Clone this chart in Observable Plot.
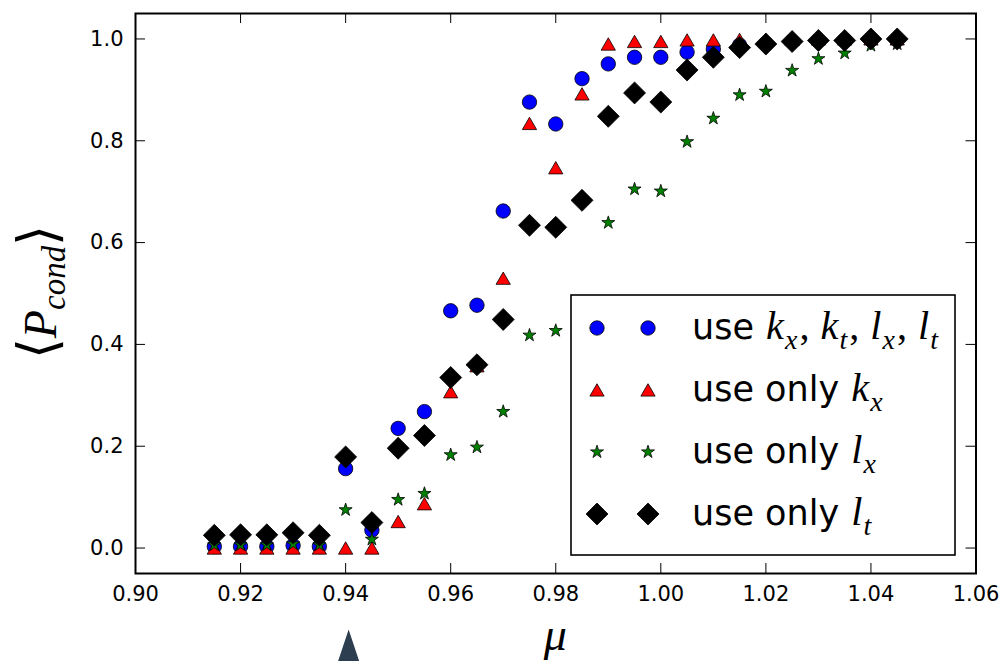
<!DOCTYPE html>
<html><head><meta charset="utf-8">
<script src="https://cdn.jsdelivr.net/npm/d3@7"></script>
<script src="https://cdn.jsdelivr.net/npm/@observablehq/plot@0.6"></script>
<style>html,body{margin:0;padding:0;background:#fff}svg{display:block}</style>
</head><body><div id="chart"></div>
<script>
// ---- data ----
const mu = [0.915,0.92,0.925,0.93,0.935,0.94,0.945,0.95,0.955,0.96,0.965,0.97,0.975,0.98,0.985,0.99,0.995,1.00,1.005,1.01,1.015,1.02,1.025,1.03,1.035,1.04,1.045];
const pAll = [0.003,0.003,0.003,0.005,0.003,0.156,0.035,0.235,0.268,0.466,0.477,0.662,0.876,0.833,0.922,0.951,0.964,0.964,0.974,0.980,0.988,0.991,0.995,0.997,0.998,0.999,0.999];
const pKx  = [0,0,0,0,0,0,0,0.052,0.087,0.307,0.358,0.530,0.834,0.747,0.892,0.990,0.995,0.995,0.998,0.998,0.999,0.999,0.999,1.0,1.0,1.0,1.0];
const pLx  = [0.006,0.006,0.006,0.008,0.006,0.075,0.017,0.095,0.107,0.183,0.198,0.268,0.418,0.427,0.460,0.639,0.705,0.701,0.798,0.844,0.890,0.897,0.938,0.961,0.972,0.987,0.990];
const pLt  = [0.025,0.026,0.026,0.030,0.025,0.179,0.050,0.196,0.221,0.335,0.360,0.449,0.634,0.630,0.683,0.848,0.894,0.876,0.939,0.964,0.983,0.990,0.995,0.997,0.997,1.0,1.0];
const xTicks = [0.90,0.92,0.94,0.96,0.98,1.00,1.02,1.04,1.06];
const yTicks = [0.0,0.2,0.4,0.6,0.8,1.0];
const markerMu = [0.94];
const seriesLabels = [
  [["use ","s"],["k","m"],["x","sub"],[", ","r"],["k","m"],["t","sub"],[", ","r"],["l","m"],["x","sub"],[", ","r"],["l","m"],["t","sub"]],
  [["use only ","s"],["k","m"],["x","sub"]],
  [["use only ","s"],["l","m"],["x","sub"]],
  [["use only ","s"],["l","m"],["t","sub"]]
];

// ---- layout ----
const W = 1004, H = 661, mL = 135, mR = 28.5, mT = 13, mB = 88;
const iW = W - mL - mR, iH = H - mT - mB;
const rows = (vals) => mu.map((m, i) => ({mu: m, p: vals[i]}));

const styles = [
  {symbol: "circle", r: 7.2, fill: "#0000ff", dy: 0},
  {symbol: "triangle", r: 5.3, fill: "#ff0000", dy: 2},
  {symbol: "star", r: 4.1, fill: "#008000", dy: 0},
  {symbol: "diamond2", r: 9.9, fill: "#000000", dy: 0}
];
const seriesVals = [pAll, pKx, pLx, pLt];

const pointer = {draw(ctx) { ctx.moveTo(0,-16); ctx.lineTo(11,17); ctx.lineTo(-11,17); ctx.closePath(); }};

const plot = Plot.plot({
  width: W, height: H,
  marginLeft: mL, marginRight: mR, marginTop: mT, marginBottom: mB,
  style: {fontFamily: "DejaVu Sans", fontSize: "21px", color: "#000", background: "#fff"},
  x: {domain: [0.90, 1.06]},
  y: {domain: [-0.05, 1.05]},
  marks: [
    Plot.ruleX(xTicks, {insetTop: iH - 10, stroke: "#000", strokeWidth: 1}),
    Plot.ruleX(xTicks, {insetBottom: iH - 10, stroke: "#000", strokeWidth: 1}),
    Plot.ruleY(yTicks, {insetRight: iW - 10, stroke: "#000", strokeWidth: 1}),
    Plot.ruleY(yTicks, {insetLeft: iW - 10, stroke: "#000", strokeWidth: 1}),
    Plot.axisX(xTicks, {tickSize: 0, tickPadding: 13, tickFormat: d3.format(".2f"), label: null, fontSize: 21}),
    Plot.axisY(yTicks, {tickSize: 0, tickPadding: 12, tickFormat: d3.format(".1f"), label: null, fontSize: 21}),
    ...seriesVals.map((vals, k) => Plot.dot(rows(vals), {
      x: "mu", y: "p", symbol: styles[k].symbol, r: styles[k].r,
      fill: styles[k].fill, fillOpacity: 1, stroke: "#000", strokeWidth: 0.8, dy: styles[k].dy
    })),
    Plot.frame({stroke: "#000", strokeWidth: 2}),
    Plot.dot(markerMu, {x: d => d, frameAnchor: "bottom", dy: 72, dx: 3, symbol: pointer, fill: "#2c3e50", stroke: "none"})
  ]
});
document.getElementById("chart").appendChild(plot);

// ---- labels & legend ----
const svg = d3.select(plot);
const SANS = "DejaVu Sans", SERIF = "Liberation Serif, DejaVu Serif, serif";

function writeParts(text, parts, fs) {
  let sub = false;
  for (const [t, kind] of parts) {
    const ts = text.append("tspan").text(t);
    if (kind === "s") ts.attr("font-family", SANS).attr("font-size", fs);
    else if (kind === "m") ts.attr("font-family", SERIF).attr("font-style", "italic").attr("font-size", fs * 1.15).attr("dx", 1);
    else if (kind === "r") ts.attr("font-family", SERIF).attr("font-size", fs * 1.15).attr("dx", 2);
    else if (kind === "sub") ts.attr("font-family", SERIF).attr("font-style", "italic").attr("font-size", fs * 0.8).attr("dx", 1);
    if (kind === "sub" && !sub) { ts.attr("dy", fs * 0.28); sub = true; }
    else if (kind !== "sub" && sub) { ts.attr("dy", -fs * 0.28); sub = false; }
    ts.style("white-space", "pre");
  }
}

// x label
svg.append("text").attr("x", mL + iW / 2).attr("y", 650).attr("text-anchor", "middle")
  .attr("font-family", SERIF).attr("font-style", "italic").attr("font-size", 46).attr("fill", "#000").text("μ");

// y label
const yl = svg.append("text").attr("transform", "translate(56,292) rotate(-90)").attr("text-anchor", "middle").attr("fill", "#000");
yl.append("tspan").attr("font-family", "DejaVu Sans").attr("font-weight", 200).attr("font-size", 54).text("⟨");
yl.append("tspan").attr("font-family", SERIF).attr("font-style", "italic").attr("font-size", 46).text("P");
yl.append("tspan").attr("font-family", SERIF).attr("font-style", "italic").attr("font-size", 33).attr("dy", 9).text("cond");
yl.append("tspan").attr("font-family", "DejaVu Sans").attr("font-weight", 200).attr("font-size", 54).attr("dy", -9).text("⟩");

// legend
const lg = svg.append("g").attr("text-anchor", "start");
lg.append("rect").attr("x", 571).attr("y", 295).attr("width", 384).attr("height", 260)
  .attr("fill", "#fff").attr("stroke", "#000").attr("stroke-width", 1.6);
const symMap = {circle: d3.symbolCircle, triangle: d3.symbolTriangle, star: d3.symbolStar, diamond2: d3.symbolDiamond2};
seriesLabels.forEach((parts, i) => {
  const cy = 328 + i * 62;
  const st = styles[i];
  for (const cx of [597, 648]) {
    lg.append("path").attr("transform", `translate(${cx},${cy + st.dy})`)
      .attr("d", d3.symbol(symMap[st.symbol], st.r * st.r * Math.PI)())
      .attr("fill", st.fill).attr("stroke", "#000").attr("stroke-width", 0.8);
  }
  const t = lg.append("text").attr("x", 692).attr("y", cy + 11).attr("fill", "#000").attr("text-anchor", "start");
  writeParts(t, parts, 35);
});
</script>
</body></html>
